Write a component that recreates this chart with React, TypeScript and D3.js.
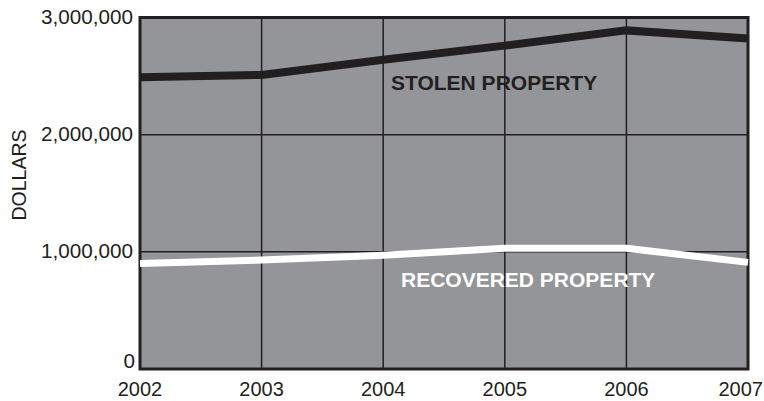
import React from "react";
import * as d3 from "d3";

const years = [2002, 2003, 2004, 2005, 2006, 2007];
const stolen = [2490000, 2510000, 2640000, 2760000, 2890000, 2820000];
const recovered = [900000, 930000, 970000, 1030000, 1030000, 910000];
const yTicks = [0, 1000000, 2000000, 3000000];

export default function App() {
  const W = 764, H = 401;
  const x = d3.scaleLinear().domain([2002, 2007]).range([140, 748]);
  const y = d3.scaleLinear().domain([0, 3000000]).range([369, 17.5]);
  const line = d3.line<number>().x((_, i) => x(years[i])).y((d) => y(d));
  const fmt = d3.format(",");
  const font = "Arial, 'Liberation Sans', Helvetica, sans-serif";
  const dark = "#231f20";
  return (
    <svg width={W} height={H} style={{ position: "absolute", left: 0, top: 0 }} fontFamily={font}>
      <rect x={x(2002)} y={y(3000000)} width={x(2007) - x(2002)} height={y(0) - y(3000000)} fill="#939598" />
      {years.slice(1, -1).map((yr) => (
        <line key={yr} x1={x(yr)} x2={x(yr)} y1={y(3000000)} y2={y(0)} stroke={dark} strokeWidth={1.5} />
      ))}
      {yTicks.slice(1, -1).map((t) => (
        <line key={t} x1={x(2002)} x2={x(2007)} y1={y(t)} y2={y(t)} stroke={dark} strokeWidth={1.5} />
      ))}
      <rect x={x(2002)} y={y(3000000)} width={x(2007) - x(2002)} height={y(0) - y(3000000)} fill="none" stroke={dark} strokeWidth={3} />
      <path d={line(stolen) || ""} fill="none" stroke={dark} strokeWidth={8} />
      <path d={line(recovered) || ""} fill="none" stroke="#ffffff" strokeWidth={7} />
      {yTicks.map((t) => (
        <text key={t} x={t === 0 ? 135 : 133} y={t === 0 ? 368 : y(t) + 6.5} textAnchor="end" fontSize={20.7} fill={dark}>
          {fmt(t)}
        </text>
      ))}
      {years.map((yr, i) => (
        <text key={yr} x={i === years.length - 1 ? 763 : x(yr)} y={396} textAnchor={i === years.length - 1 ? "end" : "middle"} fontSize={20} fill={dark}>
          {yr}
        </text>
      ))}
      <text transform="translate(26,175) rotate(-90)" textAnchor="middle" fontSize={19.5} fill={dark}>
        DOLLARS
      </text>
      <text x={391} y={90} fontSize={21} fontWeight="bold" fill={dark}>
        STOLEN PROPERTY
      </text>
      <text x={401} y={287} fontSize={21} fontWeight="bold" fill="#ffffff">
        RECOVERED PROPERTY
      </text>
    </svg>
  );
}
